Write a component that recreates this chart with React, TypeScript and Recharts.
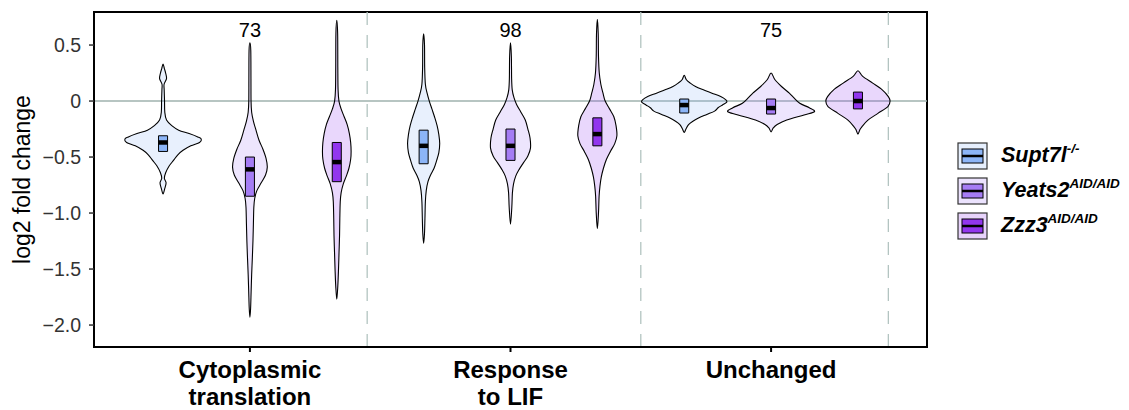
import React from 'react';
import { ComposedChart, Scatter, XAxis, YAxis, ReferenceLine, ReferenceArea } from 'recharts';

const groupLines = [['Cytoplasmic', 'translation'], ['Response', 'to LIF'], ['Unchanged']];
const geneCounts = [73, 98, 75];
const genotypes = ['Supt7l', 'Yeats2', 'Zzz3'];
const genotypeSup = ['-/-', 'AID/AID', 'AID/AID'];

// violin outlines: [log2 fold change, half width in x units]
const cytoSupt7l = [[0.33, 0], [0.29, 0.015], [0.25, 0.03], [0.2, 0.04], [0.15, 0.012], [0.1, 0.013], [0.0, 0.017], [-0.1, 0.02], [-0.17, 0.04], [-0.22, 0.1], [-0.26, 0.18], [-0.29, 0.3], [-0.32, 0.4], [-0.34, 0.44], [-0.37, 0.42], [-0.4, 0.32], [-0.44, 0.23], [-0.48, 0.17], [-0.53, 0.12], [-0.58, 0.07], [-0.64, 0.03], [-0.69, 0.015], [-0.73, 0.035], [-0.78, 0.02], [-0.83, 0]];
const cytoYeats2 = [[0.52, 0], [0.45, 0.01], [0.2, 0.012], [0.0, 0.013], [-0.1, 0.02], [-0.18, 0.04], [-0.26, 0.07], [-0.35, 0.105], [-0.43, 0.15], [-0.51, 0.185], [-0.59, 0.2], [-0.66, 0.18], [-0.73, 0.13], [-0.8, 0.08], [-0.87, 0.055], [-0.95, 0.045], [-1.1, 0.04], [-1.25, 0.035], [-1.4, 0.028], [-1.55, 0.02], [-1.7, 0.014], [-1.85, 0.008], [-1.93, 0]];
const cytoZzz3 = [[0.72, 0], [0.6, 0.01], [0.3, 0.012], [0.1, 0.015], [0.0, 0.025], [-0.07, 0.05], [-0.14, 0.085], [-0.21, 0.12], [-0.29, 0.145], [-0.37, 0.16], [-0.45, 0.165], [-0.52, 0.16], [-0.6, 0.14], [-0.67, 0.11], [-0.74, 0.075], [-0.82, 0.05], [-0.9, 0.04], [-1.05, 0.035], [-1.2, 0.032], [-1.35, 0.026], [-1.5, 0.02], [-1.65, 0.012], [-1.77, 0]];
const lifSupt7l = [[0.6, 0], [0.5, 0.01], [0.3, 0.012], [0.15, 0.02], [0.07, 0.04], [0.0, 0.065], [-0.07, 0.095], [-0.14, 0.125], [-0.22, 0.155], [-0.3, 0.175], [-0.38, 0.185], [-0.46, 0.175], [-0.53, 0.15], [-0.6, 0.12], [-0.66, 0.08], [-0.72, 0.05], [-0.8, 0.03], [-0.9, 0.02], [-1.05, 0.015], [-1.18, 0.01], [-1.27, 0]];
const lifYeats2 = [[0.52, 0], [0.4, 0.01], [0.2, 0.013], [0.1, 0.02], [0.03, 0.04], [-0.03, 0.07], [-0.1, 0.12], [-0.17, 0.17], [-0.25, 0.2], [-0.33, 0.225], [-0.42, 0.23], [-0.49, 0.2], [-0.55, 0.15], [-0.61, 0.1], [-0.67, 0.06], [-0.74, 0.035], [-0.82, 0.022], [-0.95, 0.015], [-1.1, 0]];
const lifZzz3 = [[0.73, 0], [0.6, 0.01], [0.4, 0.013], [0.25, 0.022], [0.15, 0.04], [0.07, 0.065], [0.0, 0.09], [-0.07, 0.14], [-0.14, 0.19], [-0.22, 0.215], [-0.31, 0.225], [-0.38, 0.2], [-0.45, 0.15], [-0.52, 0.105], [-0.6, 0.07], [-0.68, 0.045], [-0.76, 0.03], [-0.85, 0.02], [-1.0, 0.013], [-1.14, 0]];
const unchSupt7l = [[0.23, 0], [0.19, 0.025], [0.16, 0.07], [0.13, 0.13], [0.1, 0.22], [0.07, 0.32], [0.04, 0.42], [0.01, 0.48], [-0.01, 0.49], [-0.035, 0.44], [-0.06, 0.39], [-0.09, 0.35], [-0.12, 0.26], [-0.15, 0.17], [-0.18, 0.1], [-0.21, 0.05], [-0.25, 0.02], [-0.28, 0]];
const unchYeats2 = [[0.25, 0], [0.19, 0.045], [0.13, 0.12], [0.07, 0.21], [0.03, 0.26], [-0.02, 0.33], [-0.06, 0.44], [-0.095, 0.5], [-0.125, 0.38], [-0.17, 0.18], [-0.21, 0.07], [-0.24, 0.025], [-0.275, 0]];
const unchZzz3 = [[0.27, 0], [0.22, 0.055], [0.16, 0.17], [0.1, 0.28], [0.04, 0.35], [0.0, 0.37], [-0.05, 0.345], [-0.11, 0.23], [-0.17, 0.115], [-0.23, 0.045], [-0.26, 0.02], [-0.295, 0]];

// box plots, same order (group, genotype)
const boxQ3 = [-0.31, -0.5, -0.37, -0.26, -0.25, -0.15, 0.018, 0.018, 0.08];
const boxMedian = [-0.37, -0.61, -0.545, -0.4, -0.4, -0.295, -0.036, -0.0625, 0.0];
const boxQ1 = [-0.45, -0.85, -0.72, -0.56, -0.53, -0.4, -0.107, -0.116, -0.07];

const yTicks = [-2, -1.5, -1, -0.5, 0, 0.5];
const separatorX = [3.35, 6.5, 9.35];

const violins = [cytoSupt7l, cytoYeats2, cytoZzz3, lifSupt7l, lifYeats2, lifZzz3, unchSupt7l, unchYeats2, unchZzz3];

const boxFill = ['#8cb5f7', '#a57cf4', '#9236ee'];
const FONT = '"Liberation Sans", Arial, Helvetica, sans-serif';
const BOX_HALF = 0.052;

// closed catmull-rom through the outline points
function smoothClosed(pts: { x: number; y: number }[]) {
  const n = pts.length;
  if (!n) return '';
  let d = `M${pts[0].x},${pts[0].y}`;
  for (let i = 0; i < n; i++) {
    const p0 = pts[(i - 1 + n) % n], p1 = pts[i], p2 = pts[(i + 1) % n], p3 = pts[(i + 2) % n];
    const c1x = p1.x + (p2.x - p0.x) / 6, c1y = p1.y + (p2.y - p0.y) / 6;
    const c2x = p2.x - (p3.x - p1.x) / 6, c2y = p2.y - (p3.y - p1.y) / 6;
    d += `C${c1x},${c1y} ${c2x},${c2y} ${p2.x},${p2.y}`;
  }
  return d + 'Z';
}

function polygon(pts: { x: number; y: number }[]) {
  return pts.map((p, i) => `${i ? 'L' : 'M'}${p.x},${p.y}`).join('') + 'Z';
}

const noDot = () => <g />;

function outline(profile: number[][], pos: number) {
  const right = profile.map(([v, w]) => ({ x: pos + w, y: v }));
  const left = profile.slice(1, -1).reverse().map(([v, w]) => ({ x: pos - w, y: v }));
  return [...right, ...left];
}

const fmtY = (v: number) => (v === 0 ? '0' : v > 0 ? v.toFixed(1) : '\u2212' + Math.abs(v).toFixed(1));

const GroupTick = ({ x, y, payload }: any) => {
  const lines = groupLines[Math.round((payload.value - 2) / 3)] || [];
  return (
    <text x={x} y={y} textAnchor="middle" fontFamily={FONT} fontWeight="bold" fontSize={24} fill="#000">
      {lines.map((l, i) => (
        <tspan key={l} x={x} dy={i === 0 ? 24 : 27}>{l}</tspan>
      ))}
    </text>
  );
};

function LegendKey({ idx }: { idx: number }) {
  return (
    <svg width={31} height={28}>
      <rect x={1} y={1} width={29} height={26} fill={boxFill[idx]} fillOpacity={0.22} stroke="#333" strokeWidth={1.2} />
      <rect x={5} y={7} width={21} height={14} fill={boxFill[idx]} stroke="#000" strokeWidth={1} />
      <line x1={5} x2={26} y1={14} y2={14} stroke="#000" strokeWidth={2.5} />
    </svg>
  );
}

export default function App() {
  return (
    <div style={{ position: 'absolute', left: 0, top: 0, width: 1129, height: 410, background: '#fff' }}>
      <ComposedChart width={1129} height={410} margin={{ top: 12, right: 202, bottom: 0, left: 0 }}>
        <XAxis
          type="number"
          dataKey="x"
          domain={[0.205, 9.795]}
          ticks={[2, 5, 8]}
          allowDataOverflow
          height={63}
          tick={<GroupTick />}
          tickSize={5}
          axisLine={{ stroke: '#000', strokeWidth: 2 }}
          tickLine={{ stroke: '#000', strokeWidth: 2 }}
        />
        <YAxis
          type="number"
          dataKey="y"
          domain={[-2.196, 0.795]}
          ticks={yTicks}
          allowDataOverflow
          width={94}
          tickFormatter={fmtY}
          tickSize={5}
          tickMargin={8}
          tick={{ fontFamily: FONT, fontSize: 19.5, fill: '#333' }}
          axisLine={{ stroke: '#000', strokeWidth: 2 }}
          tickLine={{ stroke: '#333', strokeWidth: 1.5 }}
          label={{
            content: ({ viewBox }: any) => (
              <text
                transform={`translate(${(viewBox?.x ?? 0) + 22},${(viewBox?.y ?? 12) + (viewBox?.height ?? 335) / 2}) rotate(-90)`}
                textAnchor="middle"
                dominantBaseline="central"
                fontFamily={FONT}
                fontSize={23}
                fill="#000"
              >
                log2 fold change
              </text>
            ),
          }}
        />
        {separatorX.map((sx) => (
          <ReferenceLine key={sx} x={sx} stroke="#b3c4c1" strokeWidth={1.3} strokeDasharray="13 10" />
        ))}
        <ReferenceLine y={0} stroke="#9fb2ae" strokeWidth={1.6} />

        {violins.map((profile, i) => (
          <Scatter
            key={'v' + i}
            data={outline(profile, i + 1)}
            isAnimationActive={false}
            shape={noDot}
            line={(p: any) => (
              <path d={smoothClosed(p.points || [])} fill={boxFill[i % 3]} fillOpacity={0.2} stroke="#000" strokeWidth={1.1} />
            )}
          />
        ))}

        {boxMedian.map((_, i) => (
          <Scatter
            key={'b' + i}
            data={[
              { x: i + 1 - BOX_HALF, y: boxQ3[i] },
              { x: i + 1 + BOX_HALF, y: boxQ3[i] },
              { x: i + 1 + BOX_HALF, y: boxQ1[i] },
              { x: i + 1 - BOX_HALF, y: boxQ1[i] },
            ]}
            isAnimationActive={false}
            shape={noDot}
            line={(p: any) => <path d={polygon(p.points || [])} fill={boxFill[i % 3]} stroke="#000" strokeWidth={1} />}
          />
        ))}

        {boxMedian.map((m, i) => (
          <Scatter
            key={'m' + i}
            data={[
              { x: i + 1 - BOX_HALF, y: m },
              { x: i + 1 + BOX_HALF, y: m },
            ]}
            isAnimationActive={false}
            shape={noDot}
            line={(p: any) => <path d={polygon(p.points || []).replace('Z', '')} fill="none" stroke="#000" strokeWidth={4.5} />}
          />
        ))}

        <Scatter
          data={geneCounts.map((n, g) => ({ x: g * 3 + 2, y: 0.635, n }))}
          isAnimationActive={false}
          shape={(p: any) => (
            <text x={p.cx} y={p.cy} textAnchor="middle" dominantBaseline="central" fontFamily={FONT} fontSize={20} fill="#000">
              {p.payload.n}
            </text>
          )}
        />

        <ReferenceArea x1={0.205} x2={9.795} y1={-2.196} y2={0.795} fill="none" stroke="#000" strokeWidth={2} ifOverflow="visible" />
      </ComposedChart>

      <div style={{ position: 'absolute', left: 957, top: 138, fontFamily: FONT }}>
        {genotypes.map((gt, i) => (
          <div key={gt} style={{ display: 'flex', alignItems: 'center', height: 35 }}>
            <LegendKey idx={i} />
            <span style={{ marginLeft: 13, fontSize: 21.5, fontWeight: 'bold', fontStyle: 'italic', color: '#000', whiteSpace: 'nowrap' }}>
              {gt}
              <sup style={{ fontSize: 13.5, verticalAlign: 'top', position: 'relative', top: -2 }}>{genotypeSup[i]}</sup>
            </span>
          </div>
        ))}
      </div>
    </div>
  );
}
